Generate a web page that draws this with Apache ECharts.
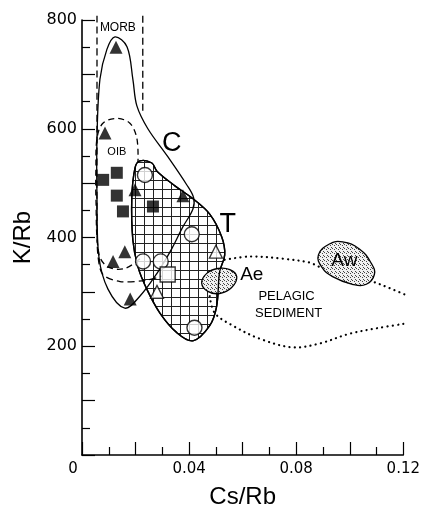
<!DOCTYPE html>
<html><head><meta charset="utf-8">
<script src="https://cdn.jsdelivr.net/npm/echarts@6/dist/echarts.min.js"></script>
<style>html,body{margin:0;padding:0;background:#fff}#c{width:423px;height:514px}</style>
</head><body><div id="c"></div>
<script>
// ---- data (Cs/Rb, K/Rb) ----
const xTickLabels = [0, 0.04, 0.08, 0.12];
const yTickLabels = [200, 400, 600, 800];

const filledTriangles = [[0.0127,750],[0.0086,592],[0.0198,488],[0.0377,477],[0.0160,374],[0.0116,356],[0.0180,287]];
const filledSquares = [[0.0079,506],[0.0130,519],[0.0130,477],[0.0153,448],[0.0265,457]];
const openCircles = [[0.0235,515],[0.0410,406],[0.0228,356],[0.0294,356],[0.0420,234]];
const openSquares = [[0.0320,332]];
const openTriangles = [[0.0280,300],[0.0500,374]];

const cField = [[0.0093,746],[0.0123,769],[0.0168,751],[0.0190,691],[0.0205,642],[0.0246,600],[0.0317,551],[0.0391,497],[0.0417,473],[0.0414,452],[0.0376,419],[0.0335,379],[0.0280,334],[0.0216,292],[0.0160,270],[0.0097,305],[0.0063,365],[0.0056,473],[0.0056,582],[0.0067,691]];
const tField = [[0.0198,528],[0.0216,541],[0.0261,537],[0.0280,522],[0.0347,495],[0.0410,473],[0.0477,443],[0.0522,401],[0.0533,368],[0.0514,337],[0.0503,274],[0.0477,238],[0.0414,210],[0.0354,225],[0.0291,261],[0.0242,305],[0.0209,346],[0.0190,395],[0.0186,473]];
const oibBoundary = [[0.0216,361],[0.0160,343],[0.0097,346],[0.0063,370],[0.0052,473],[0.0052,528],[0.0056,582],[0.0078,610],[0.0130,619],[0.0179,610],[0.0205,582],[0.0209,537]];
const morbLeft = [[0.0056,808],[0.0056,600],[0.0056,420],[0.0060,365],[0.0078,332],[0.0142,319],[0.0235,321],[0.0298,329]];
const morbRight = [[0.0227,808],[0.0227,628]];
const aeField = [[0.0447,316],[0.0466,334],[0.0507,343],[0.0552,341],[0.0578,328],[0.0559,308],[0.0514,297],[0.0470,301]];
const awField = [[0.0883,368],[0.0924,388],[0.0973,392],[0.1036,379],[0.1081,352],[0.1092,332],[0.1062,314],[0.1010,314],[0.0936,328],[0.0895,346]];
const pelagicUpper = [[0.0533,359],[0.0626,365],[0.0749,361],[0.0850,354],[0.0887,346],[0.0980,336],[0.1085,319],[0.1148,307],[0.1211,294]];
const pelagicLower = [[0.0477,292],[0.0496,261],[0.0563,238],[0.0663,214],[0.0786,198],[0.0887,205],[0.0999,223],[0.1111,234],[0.1200,241]];
const fieldLabels = [[0.0134,786,'MORB'],[0.0130,557,'OIB'],[0.0335,573,'C'],[0.0544,424,'T'],[0.0634,332,'Ae'],[0.0980,357,'Aw'],[0.0764,292,'PELAGIC'],[0.0772,261,'SEDIMENT']];

// ---- styles ----
const labelFonts = {MORB:'12px "Liberation Sans"', OIB:'11px "Liberation Sans"', C:'27px "Liberation Sans"', T:'27px "Liberation Sans"', Ae:'19px "Liberation Sans"', Aw:'19px "Liberation Sans"', PELAGIC:'13px "Liberation Sans"', SEDIMENT:'13px "Liberation Sans"'};

function makeHatch(){
  const c=document.createElement('canvas'); c.width=9; c.height=9;
  const g=c.getContext('2d'); g.fillStyle='#fff'; g.fillRect(0,0,9,9);
  g.fillStyle='#222'; g.fillRect(0,0,9,1); g.fillRect(0,0,1,9); return c;
}
function makeStipple(){
  const c=document.createElement('canvas'); c.width=4; c.height=4;
  const g=c.getContext('2d'); g.fillStyle='#f0f0f0'; g.fillRect(0,0,4,4);
  g.fillStyle='#444'; [[0,0],[2,1],[3,3]].forEach(p=>g.fillRect(p[0],p[1],1,1)); return c;
}
const hatch = {image: makeHatch(), repeat:'repeat'};
const stipple = {image: makeStipple(), repeat:'repeat'};

function shapeSeries(pts, closed, style, z, smooth){
  return {type:'custom', coordinateSystem:'cartesian2d', silent:true, z:z, clip:false,
    data:[pts[0]],
    renderItem:function(params, api){
      return {type: closed ? 'polygon' : 'polyline',
        shape:{points: pts.map(p=>api.coord(p)), smooth: smooth},
        style: style};
    }};
}

const chart = echarts.init(document.getElementById('c'), null, {renderer:'canvas'});
const axisCommon = {
  axisLine:{show:true, onZero:false, lineStyle:{color:'#000', width:1.6}},
  axisTick:{show:true, inside:true, length:13, lineStyle:{color:'#000', width:1.2}},
  minorTick:{show:true, splitNumber:2, length:8, lineStyle:{color:'#000', width:1.2}},
  splitLine:{show:false}
};
const dotted = {fill:'none', stroke:'#000', lineWidth:2.2, lineDash:[0.1,5.2], lineCap:'round'};
chart.setOption({
  animation:false,
  backgroundColor:'#fff',
  grid:{left:82, right:19, top:20, bottom:53},
  xAxis:Object.assign({type:'value', min:0, max:0.12, interval:0.02,
    name:'Cs/Rb', nameLocation:'middle', nameGap:30,
    nameTextStyle:{fontFamily:'Liberation Sans', fontSize:24, color:'#000'},
    axisLabel:{margin:7, color:'#000', fontFamily:'DejaVu Sans', fontSize:15,
      formatter:function(v){
        const k = Math.round(v*100);
        if (!xTickLabels.some(t=>Math.round(t*100)===k)) return '';
        return k===0 ? '{z|0}' : (k/100).toFixed(2);
      },
      rich:{z:{padding:[0,18,0,0], fontFamily:'DejaVu Sans', fontSize:15, color:'#000'}}}
  }, axisCommon),
  yAxis:Object.assign({type:'value', min:0, max:800, interval:100,
    name:'K/Rb', nameLocation:'middle', nameGap:46,
    nameTextStyle:{fontFamily:'Liberation Sans', fontSize:24, color:'#000'},
    axisLabel:{margin:5, color:'#000', fontFamily:'DejaVu Sans', fontSize:16,
      formatter:function(v){ return yTickLabels.indexOf(Math.round(v))>=0 ? String(Math.round(v)) : ''; }}
  }, axisCommon),
  series:[
    shapeSeries(tField, true, {fill:hatch, stroke:'#000', lineWidth:1.4}, 1, 0.35),
    shapeSeries(cField, true, {fill:'none', stroke:'#000', lineWidth:1.3}, 2, 0.35),
    shapeSeries(oibBoundary, false, {fill:'none', stroke:'#000', lineWidth:1.3, lineDash:[6,4]}, 2, 0.35),
    shapeSeries(morbLeft, false, {fill:'none', stroke:'#000', lineWidth:1.3, lineDash:[7,4]}, 2, 0.3),
    shapeSeries(morbRight, false, {fill:'none', stroke:'#000', lineWidth:1.3, lineDash:[7,4]}, 2, 0),
    shapeSeries(pelagicUpper, false, dotted, 2, 0.35),
    shapeSeries(pelagicLower, false, dotted, 2, 0.35),
    shapeSeries(aeField, true, {fill:stipple, stroke:'#000', lineWidth:1.3}, 3, 0.45),
    shapeSeries(awField, true, {fill:stipple, stroke:'#000', lineWidth:1.3}, 3, 0.45),
    shapeSeries(tField, true, {fill:'none', stroke:'#000', lineWidth:1.4}, 4, 0.35),
    {type:'custom', coordinateSystem:'cartesian2d', silent:true, z:4, clip:false,
      data:fieldLabels,
      renderItem:function(params, api){
        const p = api.coord([api.value(0), api.value(1)]);
        const t = fieldLabels[params.dataIndex][2];
        return {type:'text', x:p[0], y:p[1],
          style:{text:t, font:labelFonts[t], fill:'#000', align:'center', verticalAlign:'middle'}};
      }},
    {type:'scatter', z:5, silent:true, data:filledTriangles, symbol:'triangle', symbolSize:13, itemStyle:{color:'#000'}},
    {type:'scatter', z:5, silent:true, data:filledSquares, symbol:'rect', symbolSize:12, itemStyle:{color:'#000'}},
    {type:'scatter', z:5, silent:true, data:openCircles, symbol:'circle', symbolSize:15, itemStyle:{color:'#fff', borderColor:'#000', borderWidth:1.4}},
    {type:'scatter', z:5, silent:true, data:openSquares, symbol:'rect', symbolSize:15, itemStyle:{color:'#fff', borderColor:'#000', borderWidth:1.4}},
    {type:'scatter', z:5, silent:true, data:openTriangles, symbol:'triangle', symbolSize:13, itemStyle:{color:'#fff', borderColor:'#000', borderWidth:1.3}}
  ]
});
</script>
</body></html>
